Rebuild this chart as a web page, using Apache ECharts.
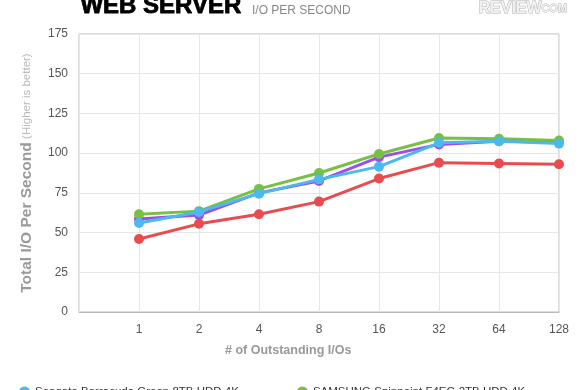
<!DOCTYPE html>
<html><head><meta charset="utf-8">
<script src="https://cdn.jsdelivr.net/npm/echarts@6/dist/echarts.min.js"></script>
<style>html,body{margin:0;padding:0;background:#fff}#c{width:580px;height:390px}</style>
</head><body><div id="c"></div>
<script>
const categories = ['', '1', '2', '4', '8', '16', '32', '64', '128'];
const seriesNames = ['Seagate Barracuda Green 8TB HDD 4K', 'SAMSUNG Spinpoint F4EG 2TB HDD 4K', 'WD Green 2TB HDD 4K', 'Seagate Archive 8TB HDD 4K'];
const blueVals   = [null, 56, 63, 74.5, 83.5, 91.5, 106.5, 107.5, 106];
const greenVals  = [null, 61.5, 63.5, 77.5, 87.5, 99.5, 109.5, 109, 108];
const purpleVals = [null, 58.5, 61, 75, 82.5, 97.5, 105.5, 107.5, 107];
const redVals    = [null, 46, 55.5, 61.5, 69.5, 84, 94, 93.5, 93];
const yTicks = {min: 0, max: 175, interval: 25};

const font = 'Liberation Sans, Arial, Helvetica, sans-serif';
const chart = echarts.init(document.getElementById('c'), null, {renderer: 'canvas'});
function mk(name, data, color, z) {
  return {name, type: 'line', data, color, z, symbol: 'circle', symbolSize: 10,
    lineStyle: {width: 3, color}, itemStyle: {color}, connectNulls: false, animation: false};
}
chart.setOption({
  animation: false,
  grid: {left: 79, right: 21, top: 34, bottom: 78, show: true, borderColor: '#b8b8b8', borderWidth: 1},
  graphic: [
    {type: 'text', left: 80, top: -6, style: {text: 'WEB SERVER', font: 'bold 24px ' + font, fill: '#000', stroke: '#000', lineWidth: 0.8}},
    {type: 'text', left: 252, top: 5, style: {text: 'I/O PER SECOND', font: '12px ' + font, fill: '#888'}},
    {type: 'text', left: 478, top: 0, style: {
      text: '{a|REVIEW}{b|COM}',
      rich: {
        a: {font: 'bold 16px ' + font, fill: '#f2f2f2', stroke: '#b0b0b0', lineWidth: 1},
        b: {font: 'bold 11px ' + font, fill: '#f2f2f2', stroke: '#b0b0b0', lineWidth: 0.8}
      }}},
    {type: 'text', left: 225, top: 344, style: {text: '# of Outstanding I/Os', font: 'bold 12.5px ' + font, fill: '#999'}}
  ],
  legend: {
    left: 14, top: 381, width: 580, icon: 'circle', itemWidth: 11, itemHeight: 11, itemGap: 58,
    textStyle: {fontFamily: font, fontSize: 11.5, color: '#333'},
    data: seriesNames
  },
  xAxis: {
    type: 'category', data: categories, boundaryGap: false,
    axisLine: {show: true, lineStyle: {color: '#b8b8b8'}}, axisTick: {show: false},
    axisLabel: {interval: 0, color: '#555', fontFamily: font, fontSize: 12, margin: 12},
    splitLine: {show: true, lineStyle: {color: '#e6e6e6', width: 1}}
  },
  yAxis: {
    type: 'value', min: yTicks.min, max: yTicks.max, interval: yTicks.interval,
    axisLine: {show: false}, axisTick: {show: false},
    axisLabel: {color: '#555', fontFamily: font, fontSize: 12, margin: 11},
    splitLine: {show: true, lineStyle: {color: '#e6e6e6', width: 1}},
    name: '{a|Total I/O Per Second} {b|(Higher is better)}', nameLocation: 'middle', nameGap: 44, nameRotate: 90,
    nameTextStyle: {rich: {
      a: {fontFamily: font, fontSize: 15.5, fontWeight: 'bold', color: '#9a9a9a'},
      b: {fontFamily: font, fontSize: 11.5, color: '#bbb'}
    }}
  },
  series: [
    mk(seriesNames[3], redVals, '#e84c4f', 2),
    mk(seriesNames[2], purpleVals, '#9b4eec', 3),
    mk(seriesNames[1], greenVals, '#77c043', 4),
    mk(seriesNames[0], blueVals, '#4cb9ec', 5)
  ]
});
</script></body></html>
